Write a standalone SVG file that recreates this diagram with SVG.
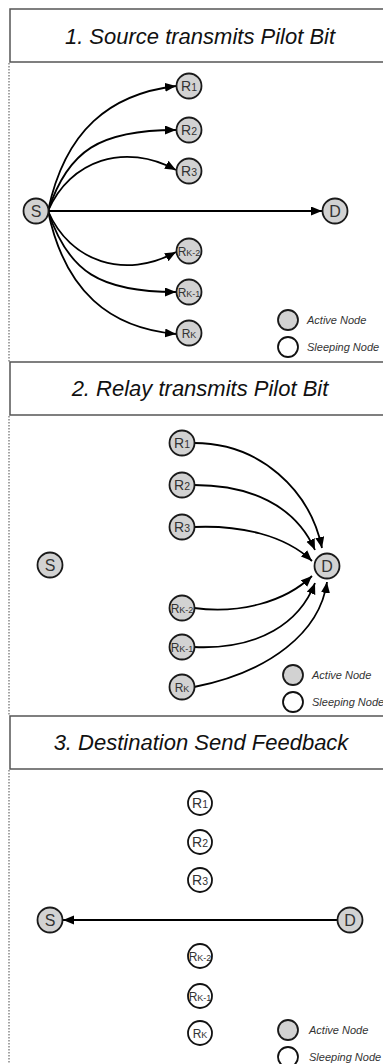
<svg xmlns="http://www.w3.org/2000/svg" width="383" height="1064" viewBox="0 0 383 1064">
<defs>
<marker id="arr" markerUnits="userSpaceOnUse" markerWidth="12" markerHeight="10" refX="11" refY="4.5" orient="auto" viewBox="0 0 12 10">
<path d="M0,0 L11,4.5 L0,9 Z" fill="#000"/>
</marker>
</defs>
<style>
.hdr{fill:#fff;stroke:#555;stroke-width:1.5}
.htxt{font-family:"Liberation Sans",Arial,sans-serif;font-style:italic;font-size:22px;fill:#111;text-anchor:middle}
.dot{stroke:#888;stroke-width:1.5;stroke-dasharray:1.5,1.5;fill:none}
.act{fill:#d2d2d2;stroke:#1a1a1a;stroke-width:1.8}
.slp{fill:#fff;stroke:#111;stroke-width:1.8}
.nt{font-family:"Liberation Sans",Arial,sans-serif;font-size:14px;fill:#333;text-anchor:middle}
.big{font-family:"Liberation Sans",Arial,sans-serif;font-size:16px;fill:#333;text-anchor:middle}
.sub{font-size:10.5px}
.subk{font-size:9px}
.rk{font-size:12px}
.leg{font-family:"Liberation Sans",Arial,sans-serif;font-style:italic;font-size:11px;fill:#333}
.edge{fill:none;stroke:#000;stroke-width:1.8;marker-end:url(#arr)}
</style>

<!-- dotted side lines -->
<g id="sidelines">
<line class="dot" x1="9" y1="63" x2="9" y2="362"/>
<line class="dot" x1="9" y1="416" x2="9" y2="715"/>
<line class="dot" x1="9" y1="770" x2="9" y2="1064"/>
</g>

<!-- headers -->
<g id="header1"><rect class="hdr" x="10" y="9" width="385" height="53"/><text class="htxt" x="200" y="43.5">1. Source transmits Pilot Bit</text></g>
<g id="header2"><rect class="hdr" x="10" y="362" width="385" height="53"/><text class="htxt" x="200" y="396">2. Relay transmits Pilot Bit</text></g>
<g id="header3"><rect class="hdr" x="10" y="716" width="385" height="53"/><text class="htxt" x="201" y="750">3. Destination Send Feedback</text></g>

<!-- connectors -->
<g id="connectors">
<path class="edge" d="M48,211 C65,130 110,94 176,86"/>
<path class="edge" d="M48,211 C68,150 100,130 176,130"/>
<path class="edge" d="M48,211 C70,160 125,142 176,170"/>
<path class="edge" d="M48,211 L322,211"/>
<path class="edge" d="M48,211 C70,262 125,280 176,252"/>
<path class="edge" d="M48,211 C68,272 100,292 176,292"/>
<path class="edge" d="M48,211 C65,292 110,328 176,334"/>

<path class="edge" d="M194,443 C260,443 310,490 322,548"/>
<path class="edge" d="M194,485 C250,485 295,505 315,550"/>
<path class="edge" d="M194,527 C240,525 285,535 312,561"/>
<path class="edge" d="M194,608 C240,614 285,602 312,576"/>
<path class="edge" d="M194,647 C260,650 300,622 315,583"/>
<path class="edge" d="M194,687 C270,672 320,632 327,582"/>

<path class="edge" d="M338,920 L63,920"/>
</g>

<!-- panel 1 nodes -->
<g id="p1-S"><circle class="act" cx="36" cy="211" r="12.5"/><text class="big" x="36" y="216.5">S</text></g>
<g id="p1-D"><circle class="act" cx="335" cy="211" r="12.5"/><text class="big" x="335" y="216.5">D</text></g>
<g id="p1-R1"><circle class="act" cx="189" cy="86" r="12.5"/><text class="nt" x="189" y="91">R<tspan class="sub">1</tspan></text></g>
<g id="p1-R2"><circle class="act" cx="189" cy="130" r="12.5"/><text class="nt" x="189" y="135">R<tspan class="sub">2</tspan></text></g>
<g id="p1-R3"><circle class="act" cx="189" cy="171" r="12.5"/><text class="nt" x="189" y="176">R<tspan class="sub">3</tspan></text></g>
<g id="p1-RK2"><circle class="act" cx="189" cy="251" r="12.5"/><text class="nt" x="189" y="255.5"><tspan class="rk">R</tspan><tspan class="subk">K-2</tspan></text></g>
<g id="p1-RK1"><circle class="act" cx="189" cy="292" r="12.5"/><text class="nt" x="189" y="296.5"><tspan class="rk">R</tspan><tspan class="subk">K-1</tspan></text></g>
<g id="p1-RK"><circle class="act" cx="189" cy="333" r="12.5"/><text class="nt" x="189" y="337.5"><tspan class="rk">R</tspan><tspan class="subk">K</tspan></text></g>
<g id="p1-legend">
<circle class="act" cx="288" cy="320" r="10"/><text class="leg" x="307" y="324">Active Node</text>
<circle class="slp" cx="288" cy="347" r="10"/><text class="leg" x="307" y="351">Sleeping Node</text>
</g>

<!-- panel 2 nodes -->
<g id="p2-S"><circle class="act" cx="50" cy="565" r="12.5"/><text class="big" x="50" y="570.5">S</text></g>
<g id="p2-D"><circle class="act" cx="327" cy="566" r="12.5"/><text class="big" x="327" y="571.5">D</text></g>
<g id="p2-R1"><circle class="act" cx="182" cy="443" r="12.5"/><text class="nt" x="182" y="448">R<tspan class="sub">1</tspan></text></g>
<g id="p2-R2"><circle class="act" cx="182" cy="485" r="12.5"/><text class="nt" x="182" y="490">R<tspan class="sub">2</tspan></text></g>
<g id="p2-R3"><circle class="act" cx="182" cy="527" r="12.5"/><text class="nt" x="182" y="532">R<tspan class="sub">3</tspan></text></g>
<g id="p2-RK2"><circle class="act" cx="182" cy="608" r="12.5"/><text class="nt" x="182" y="612.5"><tspan class="rk">R</tspan><tspan class="subk">K-2</tspan></text></g>
<g id="p2-RK1"><circle class="act" cx="182" cy="647" r="12.5"/><text class="nt" x="182" y="651.5"><tspan class="rk">R</tspan><tspan class="subk">K-1</tspan></text></g>
<g id="p2-RK"><circle class="act" cx="182" cy="687" r="12.5"/><text class="nt" x="182" y="691.5"><tspan class="rk">R</tspan><tspan class="subk">K</tspan></text></g>
<g id="p2-legend">
<circle class="act" cx="293" cy="675" r="10"/><text class="leg" x="312" y="679">Active Node</text>
<circle class="slp" cx="293" cy="702" r="10"/><text class="leg" x="312" y="706">Sleeping Node</text>
</g>

<!-- panel 3 nodes -->
<g id="p3-S"><circle class="act" cx="50" cy="920" r="12.5"/><text class="big" x="50" y="925.5">S</text></g>
<g id="p3-D"><circle class="act" cx="350" cy="920" r="12.5"/><text class="big" x="350" y="925.5">D</text></g>
<g id="p3-R1"><circle class="slp" cx="200" cy="803" r="12"/><text class="nt" x="200" y="808">R<tspan class="sub">1</tspan></text></g>
<g id="p3-R2"><circle class="slp" cx="200" cy="842" r="12"/><text class="nt" x="200" y="847">R<tspan class="sub">2</tspan></text></g>
<g id="p3-R3"><circle class="slp" cx="200" cy="880" r="12"/><text class="nt" x="200" y="885">R<tspan class="sub">3</tspan></text></g>
<g id="p3-RK2"><circle class="slp" cx="200" cy="956" r="12"/><text class="nt" x="200" y="960.5"><tspan class="rk">R</tspan><tspan class="subk">K-2</tspan></text></g>
<g id="p3-RK1"><circle class="slp" cx="200" cy="996" r="12"/><text class="nt" x="200" y="1000.5"><tspan class="rk">R</tspan><tspan class="subk">K-1</tspan></text></g>
<g id="p3-RK"><circle class="slp" cx="200" cy="1033" r="12"/><text class="nt" x="200" y="1037.5"><tspan class="rk">R</tspan><tspan class="subk">K</tspan></text></g>
<g id="p3-legend">
<circle class="act" cx="288" cy="1030" r="10"/><text class="leg" x="309" y="1034">Active Node</text>
<circle class="slp" cx="288" cy="1057" r="10"/><text class="leg" x="309" y="1061">Sleeping Node</text>
</g>
</svg>
